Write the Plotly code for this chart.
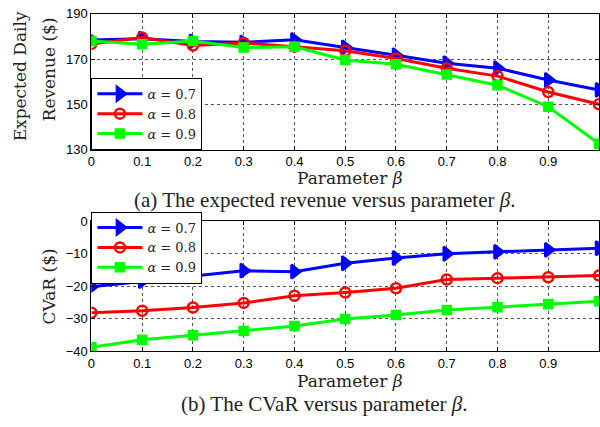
import plotly.graph_objects as go

beta = [0, 0.1, 0.2, 0.3, 0.4, 0.5, 0.6, 0.7, 0.8, 0.9, 1.0]
x_ticks = [0, 0.1, 0.2, 0.3, 0.4, 0.5, 0.6, 0.7, 0.8, 0.9, 1]
x_tick_labels = ["0", "0.1", "0.2", "0.3", "0.4", "0.5", "0.6", "0.7", "0.8", "0.9", "1"]

rev_a07 = [178.4, 179.0, 177.8, 177.4, 178.5, 175.2, 171.7, 168.2, 166.0, 160.8, 156.4]
rev_a08 = [176.7, 179.5, 176.0, 177.1, 175.5, 173.7, 170.3, 166.0, 162.5, 155.5, 150.1]
rev_a09 = [178.0, 176.5, 178.0, 175.1, 175.4, 169.6, 167.7, 163.2, 158.5, 149.0, 132.7]

cvar_a07 = [-20.1, -18.4, -16.7, -15.2, -15.5, -12.9, -11.3, -10.0, -9.4, -8.8, -8.3]
cvar_a08 = [-28.1, -27.5, -26.5, -25.1, -22.9, -21.9, -20.6, -17.9, -17.5, -17.2, -16.7]
cvar_a09 = [-38.7, -36.4, -35.0, -33.7, -32.2, -30.0, -28.8, -27.3, -26.4, -25.4, -24.6]

rev_ticks = [130, 150, 170, 190]
cvar_ticks = [-40, -30, -20, -10, 0]

names = ["<i>α</i> = 0.7", "<i>α</i> = 0.8", "<i>α</i> = 0.9"]
colors = ["#0000ff", "#ff0000", "#00ff00"]
symbols = ["triangle-right", "circle-open", "square"]
sizes = [12, 10, 8]

fig = go.Figure()
for vals, nm, c, s, sz in zip([rev_a07, rev_a08, rev_a09], names, colors, symbols, sizes):
    fig.add_trace(go.Scatter(x=beta, y=vals, name=nm, mode="lines+markers",
                             line=dict(color=c, width=3),
                             marker=dict(symbol=s, size=sz, color=c, line=dict(color=c, width=2.5)),
                             xaxis="x", yaxis="y", legend="legend"))
for vals, nm, c, s, sz in zip([cvar_a07, cvar_a08, cvar_a09], names, colors, symbols, sizes):
    fig.add_trace(go.Scatter(x=beta, y=vals, name=nm, mode="lines+markers",
                             line=dict(color=c, width=3),
                             marker=dict(symbol=s, size=sz, color=c, line=dict(color=c, width=2.5)),
                             xaxis="x2", yaxis="y2", legend="legend2"))

tickfont = dict(family="Liberation Sans, Arial, sans-serif", size=13, color="black")
serif_wide = "DejaVu Serif, serif"
serif = "Liberation Serif, Times New Roman, serif"
xdom = [88 / 600, 599 / 600]
common_x = dict(range=[0, 1], tickvals=x_ticks, ticktext=x_tick_labels, showgrid=True,
                gridcolor="#555555", griddash="dot", gridwidth=1, zeroline=False,
                showline=True, linecolor="black", linewidth=1, mirror="ticks",
                ticks="inside", ticklen=4, tickcolor="black", tickfont=tickfont, domain=xdom)
common_y = dict(showgrid=True, gridcolor="#555555", griddash="dot", gridwidth=1, zeroline=False,
                showline=True, linecolor="black", linewidth=1, mirror="ticks",
                ticks="inside", ticklen=4, tickcolor="black", tickfont=tickfont)

legend_common = dict(font=dict(family=serif_wide, size=13, color="#222222"),
                     bgcolor="white", bordercolor="black", borderwidth=1,
                     xanchor="left", tracegroupgap=0, itemwidth=45)

fig.update_layout(
    width=600, height=427,
    margin=dict(l=0, r=0, t=0, b=0),
    paper_bgcolor="white", plot_bgcolor="white",
    xaxis=dict(anchor="y", **common_x),
    yaxis=dict(anchor="x", range=[130, 190], tickvals=rev_ticks,
               domain=[1 - 148 / 427, 1 - 7 / 427], **common_y),
    xaxis2=dict(anchor="y2", **common_x),
    yaxis2=dict(anchor="x2", range=[-40, 0], tickvals=cvar_ticks,
                domain=[1 - 357 / 427, 1 - 222 / 427], **common_y),
    legend=dict(x=88 / 600, y=1 - 148 / 427, yanchor="bottom", **legend_common),
    legend2=dict(x=88 / 600, y=1 - 212 / 427, yanchor="top", **legend_common),
    showlegend=True,
)

ann = [
    dict(text="Expected Daily", x=17 / 600, y=1 - 72 / 427, textangle=-90,
         font=dict(family=serif_wide, size=17)),
    dict(text="Revenue ($)", x=45 / 600, y=1 - 65 / 427, textangle=-90,
         font=dict(family=serif_wide, size=17)),
    dict(text="CVaR ($)", x=45 / 600, y=1 - 290 / 427, textangle=-90,
         font=dict(family=serif_wide, size=17)),
    dict(text="Parameter <i>β</i>", x=348 / 600, y=1 - 177 / 427, font=dict(family=serif_wide, size=17)),
    dict(text="(a) The expected revenue versus parameter <i>β</i>.", x=323 / 600, y=1 - 200 / 427,
         font=dict(family=serif, size=21)),
    dict(text="Parameter <i>β</i>", x=348 / 600, y=1 - 388 / 427, font=dict(family=serif_wide, size=17)),
    dict(text="(b) The CVaR versus parameter <i>β</i>.", x=323 / 600, y=1 - 411 / 427,
         font=dict(family=serif, size=21)),
]
for a in ann:
    fig.add_annotation(xref="paper", yref="paper", showarrow=False, xanchor="center",
                       yanchor="middle", font_color="#222222", **a)

fig.write_html("out.html", config={"displayModeBar": False},
               post_script="document.body.style.margin='0';document.body.style.overflow='hidden';")
